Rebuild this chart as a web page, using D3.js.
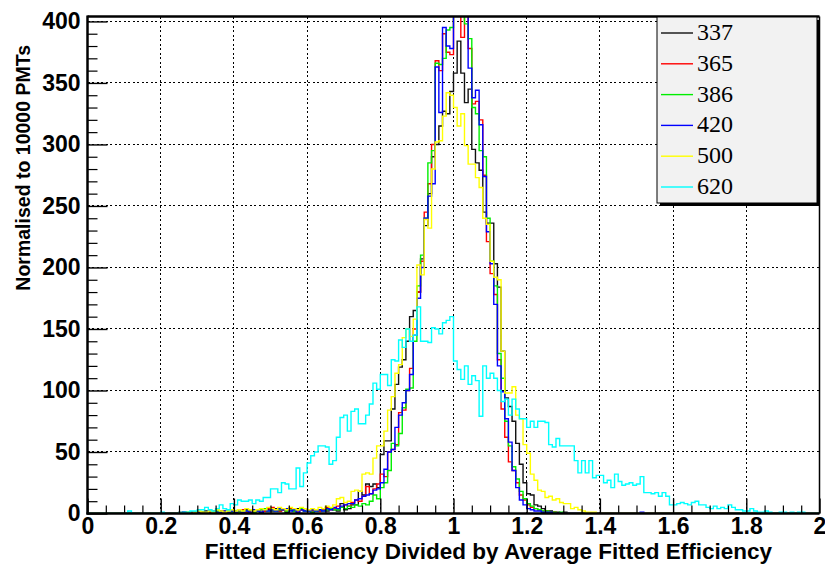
<!DOCTYPE html>
<html><head><meta charset="utf-8">
<script src="https://cdn.jsdelivr.net/npm/d3@7"></script>
<style>body{margin:0;background:#fff}</style>
</head><body>
<svg id="c" width="825" height="567"></svg>
<script>
// ---- data (bin width 0.01, from 0 to 2) ----
const binWidth = 0.01;
const seriesNames = ["337","365","386","420","500","620"];
const seriesColors = ["#111111","#ff0000","#00ee00","#0000ff","#ffff00","#00ffff"];
const xTickValues = [0,0.2,0.4,0.6,0.8,1,1.2,1.4,1.6,1.8,2];
const xTickLabels = ["0","0.2","0.4","0.6","0.8","1","1.2","1.4","1.6","1.8","2"];
const yTickValues = [0,50,100,150,200,250,300,350,400];
const yTickLabels = ["0","50","100","150","200","250","300","350","400"];
const xTitle = "Fitted Efficiency Divided by Average Fitted Efficiency";
const yTitle = "Normalised to 10000 PMTs";

const h337 = [
0,0,0,0,0,0,0,0,0,0,0,0,0,0,0,0,0,0,0,0,
0,0,0,0,0,0,1,0,1,0,1,0,2,1,0,1,2,1,3,1,
2,1,2,3,1,2,3,1,2,3,2,4,2,3,1,3,2,4,3,2,
3,2,3,2,3,2,4,3,2,8,3,4,7,7,18,15,24,22,24,21,
48,59,59,85,105,119,125,140,160,165,180,207,234,260,290,300,315,327,325,343,
358,384,358,334,345,296,285,279,245,236,236,203,184,132,94,87,75,57,40,25,
16,15,7,6,4,2,2,1,1,0,1,0,0,0,0,0,0,0,0,0,
0,0,0,0,0,0,0,0,0,0,0,0,0,0,0,0,0,0,0,0,
0,0,0,0,0,0,0,0,0,0,0,0,0,0,0,0,0,0,0,0,
0,0,0,0,0,0,0,0,0,0,0,0,0,0,0,0,0,0,0,0];
const h365 = [
0,0,0,0,0,0,0,0,0,0,0,0,0,0,0,0,0,0,0,0,
0,0,0,0,0,1,0,0,1,0,0,1,0,1,2,0,1,2,1,0,
2,1,3,1,2,1,2,3,2,4,5,3,2,3,2,4,3,2,3,4,
2,2,3,2,3,5,3,4,6,5,7,6,9,11,10,14,22,16,20,24,
32,30,50,52,56,82,84,100,118,150,180,205,245,268,300,368,360,390,375,373,
420,410,387,420,378,333,335,320,275,221,195,178,125,85,62,42,35,25,15,11,
7,5,4,3,2,2,1,1,0,0,0,0,0,0,0,0,0,0,0,0,
0,0,0,0,0,0,0,0,0,0,0,0,0,0,0,0,0,0,0,0,
0,0,0,0,0,0,0,0,0,0,0,0,0,0,0,0,0,0,0,0,
0,0,0,0,0,0,0,0,0,0,0,0,0,0,0,0,0,0,0,0];
const h386 = [
0,0,0,0,0,0,0,0,0,0,0,0,0,0,0,0,0,0,0,0,
0,0,0,0,0,0,0,1,0,1,0,1,1,0,1,2,1,1,2,1,
2,1,2,2,3,1,2,3,4,2,3,2,3,4,2,3,2,3,4,2,
2,1,2,3,2,3,4,3,3,5,4,6,5,7,6,8,7,10,15,12,
21,25,35,57,55,65,86,101,102,140,185,210,240,285,295,366,365,370,393,395,
420,430,415,398,386,330,325,295,290,240,205,185,130,110,75,55,38,28,18,12,
8,6,4,3,2,2,1,1,0,1,0,0,0,0,0,0,0,0,0,0,
0,0,0,0,0,0,0,0,0,0,0,0,0,0,0,0,0,0,0,0,
0,0,0,0,0,0,0,0,0,0,0,0,0,0,0,0,0,0,0,0,
0,0,0,0,0,0,0,0,0,0,0,0,0,0,0,0,0,0,0,0];
const h420 = [
0,0,0,0,0,0,0,0,0,0,0,0,0,0,0,0,0,0,0,0,
0,0,0,0,0,0,1,0,0,1,1,0,1,2,0,1,1,2,1,2,
1,3,1,2,1,3,2,1,3,2,3,2,4,3,4,2,3,1,3,2,
2,3,2,3,2,4,3,5,4,6,7,8,8,11,12,14,15,16,19,20,
25,36,50,52,70,80,90,100,113,145,175,200,240,258,268,363,326,395,380,378,
425,445,430,412,362,338,344,316,274,229,203,170,120,99,77,58,35,21,11,7,
4,3,2,2,1,1,1,0,0,0,0,0,0,0,0,0,0,0,0,0,
0,0,0,0,0,0,0,0,0,0,0,1,0,0,0,0,0,0,0,0,
0,0,0,0,0,0,0,0,0,0,0,0,0,0,0,0,0,0,0,0,
0,0,0,0,0,0,0,0,0,0,0,0,0,0,0,0,0,0,0,0];
const h500 = [
0,0,0,0,0,0,0,0,0,0,0,0,0,0,0,0,0,0,0,0,
0,0,0,0,0,0,0,1,0,1,2,1,1,2,1,3,2,1,2,3,
2,3,2,4,3,2,3,4,3,5,4,3,5,4,3,5,4,3,5,4,
3,4,3,5,4,6,5,7,12,13,9,10,18,19,18,32,33,32,45,55,
55,67,84,95,114,121,143,150,144,158,202,194,239,232,280,302,303,323,342,340,
330,315,325,299,284,284,273,265,240,235,205,192,190,132,98,98,103,80,77,56,
49,32,27,19,18,13,14,11,12,9,8,8,4,5,3,2,1,1,1,0,
0,0,0,0,0,0,0,0,0,0,0,0,0,0,0,0,0,0,0,0,
0,0,0,0,0,0,0,0,0,0,0,0,0,0,0,0,0,0,0,0,
0,0,0,0,0,0,0,0,0,0,0,0,0,0,0,0,0,0,0,0];
const h620 = [
0,0,0,0,0,0,0,0,0,0,0,2,0,0,0,0,0,0,0,0,
1,0,0,0,0,1,1,1,2,2,3,3,5,3,2,4,7,4,3,8,
7,11,10,10,11,8,11,10,13,13,20,20,17,25,24,20,20,37,22,33,
41,47,50,55,55,54,40,43,62,78,80,67,83,85,73,73,80,89,106,101,
113,113,104,125,124,141,135,150,140,145,168,140,140,139,151,150,146,155,157,160,
124,117,109,120,105,112,108,79,120,110,114,110,100,91,93,80,93,85,77,77,
70,75,70,75,75,74,56,54,61,55,55,55,55,43,33,43,33,43,29,31,
31,25,27,21,32,26,23,24,25,23,24,30,17,17,16,17,14,17,14,7,
7,8,9,8,7,9,10,7,7,5,4,6,4,5,4,7,5,3,3,2,
2,4,2,1,1,2,1,0,0,1,1,0,1,0,1,1,0,0,0,0];

const allSeries = [h337,h365,h386,h420,h500,h620];

// ---- layout ----
const svg = d3.select("#c");
const x = d3.scaleLinear().domain([0,2]).range([87.5,819.5]);
const y = d3.scaleLinear().domain([0,404]).range([513.5,16.5]);
const fontSans = "'Liberation Sans', Arial, Helvetica, sans-serif";

svg.append("rect").attr("width",825).attr("height",567).attr("fill","#fff");

svg.append("defs").append("clipPath").attr("id","frameClip")
  .append("rect").attr("x",x(0)).attr("y",y.range()[1])
  .attr("width",x(2)-x(0)).attr("height",y.range()[0]-y.range()[1]);

// grid
const grid = svg.append("g").attr("stroke","#000").attr("stroke-width",1)
  .attr("stroke-dasharray","2,2.5").attr("shape-rendering","crispEdges");
xTickValues.slice(1,-1).forEach(v=>{
  grid.append("line").attr("x1",x(v)).attr("x2",x(v)).attr("y1",y.range()[0]).attr("y2",y.range()[1]);
});
yTickValues.slice(1).forEach(v=>{
  grid.append("line").attr("x1",x(0)).attr("x2",x(2)).attr("y1",y(v)).attr("y2",y(v));
});

// histograms
const line = d3.line().x(d=>x(d[0])).y(d=>y(d[1])).curve(d3.curveStepAfter);
const hg = svg.append("g").attr("clip-path","url(#frameClip)");
allSeries.forEach((arr,si)=>{
  const pts = arr.map((v,i)=>[i*binWidth, v]);
  pts.push([arr.length*binWidth, arr[arr.length-1]]);
  hg.append("path").attr("d",line(pts)).attr("fill","none")
    .attr("stroke",seriesColors[si]).attr("stroke-width",1.4);
});

// axes: minor ticks
const xMinor = d3.range(0,41).map(i=>i*0.05).filter(v=>Math.abs(v/0.2-Math.round(v/0.2))>1e-6);
const yMinor = d3.range(0,41).map(i=>i*10).filter(v=>v%50!==0 && v<=404);
svg.append("g").attr("transform",`translate(0,${y(0)})`)
  .call(d3.axisBottom(x).tickValues(xMinor).tickSize(-8).tickFormat(""))
  .call(g=>g.select(".domain").remove())
  .selectAll("line").attr("stroke","#000").attr("stroke-width",1.2);
svg.append("g").attr("transform",`translate(${x(0)},0)`)
  .call(d3.axisLeft(y).tickValues(yMinor).tickSize(-10).tickFormat(""))
  .call(g=>g.select(".domain").remove())
  .selectAll("line").attr("stroke","#000").attr("stroke-width",1.2);

// major ticks + labels
const xa = svg.append("g").attr("transform",`translate(0,${y(0)})`)
  .call(d3.axisBottom(x).tickValues(xTickValues).tickSize(-15).tickPadding(4)
    .tickFormat((d,i)=>xTickLabels[i]));
xa.select(".domain").remove();
xa.selectAll("line").attr("stroke","#000").attr("stroke-width",1.4);
xa.selectAll("text").attr("font-family",fontSans).attr("font-weight","bold")
  .attr("font-size",23).attr("fill","#000");

const ya = svg.append("g").attr("transform",`translate(${x(0)},0)`)
  .call(d3.axisLeft(y).tickValues(yTickValues).tickSize(-20).tickPadding(7)
    .tickFormat((d,i)=>yTickLabels[i]));
ya.select(".domain").remove();
ya.selectAll("line").attr("stroke","#000").attr("stroke-width",1.4);
ya.selectAll("text").attr("font-family",fontSans).attr("font-weight","bold")
  .attr("font-size",23).attr("fill","#000");

// frame
svg.append("line").attr("x1",x(0)).attr("x2",x(2)).attr("y1",y.range()[1]).attr("y2",y.range()[1])
  .attr("stroke","#000").attr("stroke-width",2.5);
svg.append("line").attr("x1",x(2)).attr("x2",x(2)).attr("y1",y.range()[1]).attr("y2",y(0))
  .attr("stroke","#000").attr("stroke-width",1.5);
svg.append("line").attr("x1",x(0)).attr("x2",x(0)).attr("y1",y.range()[1]-1).attr("y2",y(0)+1)
  .attr("stroke","#000").attr("stroke-width",2.5);
svg.append("line").attr("x1",x(0)-1).attr("x2",x(2)).attr("y1",y(0)).attr("y2",y(0))
  .attr("stroke","#000").attr("stroke-width",2.5);

// titles
svg.append("text").attr("x",772).attr("y",559).attr("text-anchor","end")
  .attr("font-family",fontSans).attr("font-weight","bold").attr("font-size",22.5)
  .text(xTitle);
svg.append("text").attr("transform","translate(30,45) rotate(-90)").attr("text-anchor","end")
  .attr("font-family",fontSans).attr("font-weight","bold").attr("font-size",19.5)
  .text(yTitle);

// legend
const lg = svg.append("g");
lg.append("rect").attr("x",660).attr("y",20).attr("width",160).attr("height",186).attr("fill","#000");
lg.append("rect").attr("x",657).attr("y",17).attr("width",160).attr("height",186)
  .attr("fill","#f2f2f2").attr("stroke","#000").attr("stroke-width",1);
seriesNames.forEach((nm,i)=>{
  const by = 40 + i*30.8;
  lg.append("line").attr("x1",661).attr("x2",693).attr("y1",by-7).attr("y2",by-7)
    .attr("stroke",seriesColors[i]).attr("stroke-width",1.4);
  lg.append("text").attr("x",697).attr("y",by)
    .attr("font-family","'Liberation Serif','Times New Roman',serif").attr("font-size",24)
    .attr("fill","#000").text(nm);
});
</script>
</body></html>
